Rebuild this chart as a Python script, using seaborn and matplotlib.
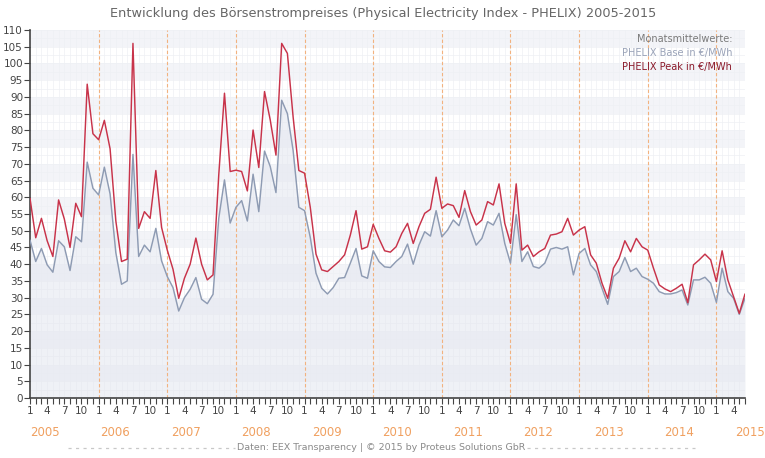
import numpy as np
import pandas as pd
import matplotlib
matplotlib.use("Agg")
import matplotlib.pyplot as plt
import seaborn as sns
from matplotlib.lines import Line2D

# monthly averages Jan 2005 - Jun 2015, EUR/MWh
peak = [
    59.7, 47.9, 53.7, 47.0, 42.3, 59.2, 53.5, 45.0, 58.2, 54.2, 93.8, 79.0,
    77.2, 83.0, 74.5, 53.0, 40.8, 41.5, 106.0, 50.7, 55.7, 53.7, 68.0, 51.0,
    44.2, 38.5, 29.8, 35.8, 40.0, 47.8, 40.0, 35.3, 36.8, 66.7, 91.1, 67.7,
    68.1, 67.7, 61.9, 80.1, 68.9, 91.6, 83.1, 72.6, 106.0, 103.0, 84.0, 68.0,
    67.2, 57.0, 43.0, 38.3, 37.8, 39.3, 40.8, 42.8, 48.7, 56.0, 44.5, 45.2,
    51.9, 47.7, 44.0, 43.6, 45.2, 49.2, 52.2, 46.2, 51.2, 55.2, 56.4, 66.0,
    56.7, 58.0, 57.5, 54.0, 62.0, 55.7, 51.7, 53.2, 58.7, 57.7, 64.0, 52.2,
    46.2, 64.0, 44.2, 45.7, 42.3, 43.7, 44.7, 48.7, 49.0, 49.7, 53.7, 48.7,
    50.2, 51.2, 42.8, 40.3, 34.3, 29.8, 38.8, 41.8, 47.0, 43.7, 47.7, 45.2,
    44.2, 38.8, 33.8, 32.6, 31.8, 32.8, 34.0, 28.5, 39.8, 41.3, 43.0, 41.3,
    34.8, 44.0, 35.3, 30.3, 25.3, 31.1,
]
base = [
    47.2, 40.8, 44.7, 39.8, 37.6, 47.0, 45.2, 38.1, 48.2, 46.7, 70.5, 62.7,
    60.7, 69.0, 61.0, 43.5, 34.0, 35.0, 72.8, 42.3, 45.7, 43.7, 50.7, 41.0,
    36.3, 33.0, 26.0, 30.0, 32.5, 36.0, 29.5, 28.2, 31.0, 53.7, 65.2, 52.3,
    57.0, 59.0, 52.9, 66.9, 55.7, 73.8, 69.2, 61.4, 89.0, 85.0, 74.0, 57.0,
    56.0, 48.0, 37.3, 32.8, 31.1, 33.0, 35.8, 36.0, 40.3, 44.7, 36.5, 35.8,
    44.0, 40.8, 39.2, 39.0, 40.8, 42.3, 46.0, 40.0, 45.7, 49.7, 48.4, 56.0,
    48.2, 50.2, 53.2, 51.5, 56.7, 50.5, 45.7, 47.7, 52.7, 51.7, 55.2, 46.2,
    40.3, 54.8, 40.8, 43.7, 39.3, 38.8, 40.3, 44.5, 45.0, 44.5, 45.2, 36.8,
    43.2, 44.7, 39.8, 37.8, 32.8, 28.0, 36.3, 37.8, 42.0, 37.8, 38.8, 36.3,
    35.5, 34.3, 31.8, 31.1, 31.1, 31.5, 32.3, 27.8, 35.3, 35.3, 36.1, 34.3,
    28.6, 38.8, 31.8, 29.8, 25.0, 29.8,
]
years = list(range(2005, 2016))
month_labels = ["1", "", "", "4", "", "", "7", "", "", "10", "", ""]
y_ticks = list(range(0, 111, 5))

title = "Entwicklung des Börsenstrompreises (Physical Electricity Index - PHELIX) 2005-2015"
footer = "Daten: EEX Transparency | © 2015 by Proteus Solutions GbR"

idx = np.arange(len(peak))
df = pd.DataFrame({"idx": idx, "Base": base, "Peak": peak})
df_long = df.melt(id_vars="idx", var_name="series", value_name="value")

sns.set_theme(style="white")
plt.rcParams["font.family"] = ["DejaVu Sans"]

fig = plt.figure(figsize=(7.65, 4.58), dpi=100)
ax = fig.add_axes([30 / 765, 60 / 458, 715 / 765, 368 / 458])

# alternating background bands
for k in range(len(y_ticks) - 1):
    if k % 2 == 1:
        ax.axhspan(y_ticks[k], y_ticks[k + 1], color="#f3f4f8", zorder=0, lw=0)

ax.fill_between(idx, base, color="#e5e8f0", alpha=0.6, zorder=1, lw=0)

sns.lineplot(data=df_long, x="idx", y="value", hue="series",
             palette={"Base": "#8e9bb3", "Peak": "#c8334a"},
             linewidth=1.05, legend=False, ax=ax, zorder=3)

# year separators
for k in range(1, len(years)):
    ax.axvline(12 * k, color="#f2b27f", ls=(0, (3, 2)), lw=0.8, zorder=2)

ax.set_xlim(0, len(peak) - 1)
ax.set_ylim(0, 110)
ax.set_xticks(idx)
ax.set_xticklabels([month_labels[i % 12] for i in idx])
ax.set_yticks(y_ticks)
ax.set_yticks(np.arange(0, 110, 2.5), minor=True)
ax.set_xlabel("")
ax.set_ylabel("")

ax.grid(axis="x", which="major", color="#eef0f4", lw=0.5, zorder=0)
ax.grid(axis="y", which="both", color="#eef0f4", lw=0.5, zorder=0)
ax.set_axisbelow(True)

ax.tick_params(axis="x", which="major", length=4, width=0.8, color="#444",
               labelsize=7.5, labelcolor="#444", pad=2, bottom=True)
ax.tick_params(axis="y", which="major", length=4, width=0.8, color="#444",
               labelsize=7.5, labelcolor="#444", pad=1, left=True)
ax.tick_params(axis="y", which="minor", length=0)

for side in ["top", "right"]:
    ax.spines[side].set_visible(False)
for side in ["left", "bottom"]:
    ax.spines[side].set_color("#444")
    ax.spines[side].set_linewidth(1.2)

# legend text block
ax.text(0.982, 0.975, "Monatsmittelwerte:", transform=ax.transAxes, ha="right",
        va="center", fontsize=7, color="#7a7a7a")
ax.text(0.982, 0.937, "PHELIX Base in €/MWh", transform=ax.transAxes, ha="right",
        va="center", fontsize=7, color="#9aa3b8")
ax.text(0.982, 0.899, "PHELIX Peak in €/MWh", transform=ax.transAxes, ha="right",
        va="center", fontsize=7, color="#8b1a2a")

fig.text(383 / 765, 1 - 13 / 458, title, ha="center", va="center", fontsize=9.3, color="#666")

for k, yr in enumerate(years):
    fig.text((44.5 + 70.55 * k) / 765, 1 - 433 / 458, str(yr), ha="center",
             va="center", fontsize=8.5, color="#f0a060")

fy = 1 - 448 / 458
fig.text(381 / 765, fy, footer, ha="center", va="center", fontsize=6.8, color="#8a8a8a")
fig.add_artist(Line2D([68 / 765, 235 / 765], [fy, fy], ls=(0, (2.5, 3.5)),
                      color="#c8c8c8", lw=0.9))
fig.add_artist(Line2D([527 / 765, 695 / 765], [fy, fy], ls=(0, (2.5, 3.5)),
                      color="#c8c8c8", lw=0.9))

fig.savefig("out.png", dpi=100)
